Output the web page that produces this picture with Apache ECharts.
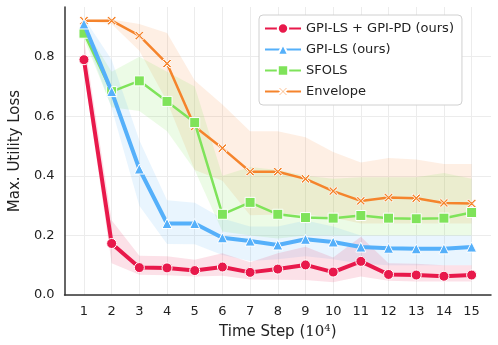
<!DOCTYPE html>
<html>
<head>
<meta charset="utf-8">
<script src="https://cdn.jsdelivr.net/npm/echarts@6/dist/echarts.min.js"></script>
<style>
html,body{margin:0;padding:0;background:#fff;}
#chart{width:498px;height:345px;}
</style>
</head>
<body>
<div id="chart"></div>
<script>
// time steps (x 10^4)
var steps = [1,2,3,4,5,6,7,8,9,10,11,12,13,14,15];
var xTicks = [1,2,3,4,5,6,7,8,9,10,11,12,13,14,15];
var yTicks = [0, 0.2, 0.4, 0.6, 0.8];

var names = ['GPI-LS + GPI-PD (ours)', 'GPI-LS (ours)', 'SFOLS', 'Envelope'];

// mean curves
var gpiPd = [0.79,0.173,0.092,0.091,0.082,0.094,0.076,0.087,0.101,0.077,0.113,0.069,0.067,0.063,0.067];
var gpiLs = [0.91,0.683,0.423,0.24,0.24,0.192,0.181,0.168,0.187,0.178,0.161,0.157,0.155,0.155,0.161];
var sfols = [0.879,0.683,0.719,0.65,0.579,0.271,0.311,0.271,0.26,0.258,0.267,0.258,0.256,0.258,0.277];
var envelope = [0.921,0.921,0.871,0.777,0.566,0.493,0.414,0.414,0.39,0.349,0.316,0.327,0.325,0.309,0.307];

// shaded bands (lower / upper)
var gpiPdLo = [0.75,0.107,0.068,0.066,0.062,0.065,0.052,0.051,0.05,0.043,0.062,0.048,0.045,0.045,0.045];
var gpiPdHi = [0.86,0.251,0.132,0.13,0.118,0.14,0.11,0.14,0.162,0.126,0.196,0.107,0.105,0.1,0.1];
var gpiLsLo = [0.88,0.627,0.3,0.171,0.17,0.134,0.114,0.12,0.13,0.12,0.105,0.1,0.1,0.1,0.1];
var gpiLsHi = [0.93,0.79,0.52,0.318,0.31,0.257,0.23,0.23,0.25,0.23,0.2,0.2,0.2,0.2,0.2];
var sfolsLo = [0.86,0.63,0.618,0.55,0.42,0.213,0.2,0.19,0.2,0.2,0.2,0.2,0.2,0.2,0.2];
var sfolsHi = [0.9,0.75,0.8,0.75,0.7,0.4,0.43,0.42,0.4,0.39,0.395,0.395,0.395,0.41,0.39];
var envelopeLo = [0.92,0.91,0.82,0.65,0.42,0.384,0.268,0.27,0.27,0.26,0.24,0.24,0.24,0.24,0.24];
var envelopeHi = [0.922,0.925,0.91,0.88,0.72,0.64,0.55,0.55,0.53,0.48,0.445,0.46,0.455,0.44,0.44];

var colors = ['#E8194B', '#55B0FA', '#7FE35A', '#F5842C'];
var bandColors = ['rgba(232,25,75,0.13)', 'rgba(85,176,250,0.13)', 'rgba(127,227,90,0.15)', 'rgba(245,132,44,0.13)'];

var xSymbol = 'path://M0,1.6 L1.6,0 L5,3.4 L8.4,0 L10,1.6 L6.6,5 L10,8.4 L8.4,10 L5,6.6 L1.6,10 L0,8.4 L3.4,5 Z';

var pairs = function(ys){
    return steps.map(function(s, i){ return [s, ys[i]]; });
};

// band as one polygon, drawn through the axis scales
var bandSeries = function(lo, hi, idx){
    return {
        type: 'custom', silent: true, z: 1, animation: false,
        data: [[steps[0], lo[0]]],
        renderItem: function(params, api){
            var pts = [];
            for (var i = 0; i < steps.length; i++) pts.push(api.coord([steps[i], hi[i]]));
            for (var j = steps.length - 1; j >= 0; j--) pts.push(api.coord([steps[j], lo[j]]));
            return {type: 'polygon', shape: {points: pts}, style: {fill: bandColors[idx]}};
        }
    };
};

var mainSeries = function(name, ys, idx, symbol, size, width){
    return {
        name: name, type: 'line', data: pairs(ys), symbol: symbol, symbolSize: size,
        lineStyle: {color: colors[idx], width: width},
        itemStyle: {color: colors[idx], borderColor: '#fff', borderWidth: 1},
        z: 10 - idx, animation: false
    };
};

var series = [];
series.push(bandSeries(envelopeLo, envelopeHi, 3));
series.push(bandSeries(sfolsLo, sfolsHi, 2));
series.push(bandSeries(gpiLsLo, gpiLsHi, 1));
series.push(bandSeries(gpiPdLo, gpiPdHi, 0));
series.push(mainSeries(names[3], envelope, 3, xSymbol, 9, 2.5));
series.push(mainSeries(names[2], sfols, 2, 'rect', 10, 2.5));
series.push(mainSeries(names[1], gpiLs, 1, 'triangle', 10, 4));
series.push(mainSeries(names[0], gpiPd, 0, 'circle', 10, 4));

var font = 'DejaVu Sans';
var chart = echarts.init(document.getElementById('chart'));
chart.setOption({
    backgroundColor: '#fff',
    animation: false,
    grid: {left: 53, right: 7, top: 7, bottom: 48},
    legend: {
        data: names, orient: 'vertical', left: 259, top: 15,
        backgroundColor: '#fff', borderColor: '#d0d0d0', borderWidth: 1, borderRadius: 4,
        padding: [7, 8, 7, 5], itemGap: 8, itemWidth: 36, itemHeight: 13,
        textStyle: {fontFamily: font, fontSize: 13, color: '#222'}
    },
    xAxis: {
        type: 'value', min: 0.3, max: 15.7,
        name: '{a|Time Step (}{b|10}{c|4}{a|)}', nameLocation: 'middle', nameGap: 28,
        nameTextStyle: {
            rich: {
                a: {fontFamily: font, fontSize: 15, color: '#222'},
                b: {fontFamily: 'DejaVu Serif', fontSize: 15, color: '#222'},
                c: {fontFamily: 'DejaVu Serif', fontSize: 10, color: '#222', padding: [0, 0, 9, 0]}
            }
        },
        axisLine: {lineStyle: {color: '#333', width: 1.5}},
        axisTick: {show: false, customValues: xTicks},
        axisLabel: {customValues: xTicks, fontFamily: font, fontSize: 13, color: '#222', margin: 10},
        splitLine: {show: true, lineStyle: {color: '#ececec', width: 1}}
    },
    yAxis: {
        type: 'value', min: 0, max: 0.967,
        name: 'Max. Utility Loss', nameLocation: 'middle', nameGap: 37,
        nameTextStyle: {fontFamily: font, fontSize: 15, color: '#222'},
        axisLine: {show: true, lineStyle: {color: '#333', width: 1.5}},
        axisTick: {show: false, customValues: yTicks},
        axisLabel: {
            customValues: yTicks, fontFamily: font, fontSize: 13, color: '#222', margin: 10,
            formatter: function(v){ return v.toFixed(1); }
        },
        splitLine: {show: true, lineStyle: {color: '#ececec', width: 1}}
    },
    series: series
});
</script>
</body>
</html>
